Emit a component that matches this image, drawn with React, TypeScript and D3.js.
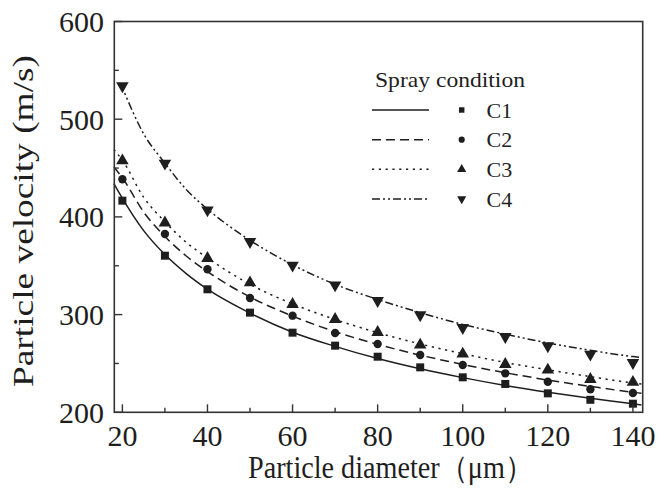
import React from "react";
import * as d3 from "d3";

const diameters = [20, 30, 40, 50, 60, 70, 80, 90, 100, 110, 120, 130, 140];
const c1 = [416.6, 360.3, 325.9, 302, 281.5, 268.2, 256.9, 246, 235.8, 229, 219.4, 212.8, 208.8];
const c2 = [438.5, 382.5, 346.4, 317, 298.9, 281.2, 269.9, 258.6, 248.4, 239.9, 231.3, 223.6, 219.8];
const c3 = [457.5, 394, 357.6, 332.6, 310.5, 295.2, 281.9, 268.9, 259.7, 249.1, 243.3, 233.8, 230.8];
const c4 = [534, 454.9, 407, 374.6, 350.5, 330.3, 314.2, 299.6, 286.6, 277.4, 267.9, 259.4, 250.8];

const fitX = [18, 20, 25, 30, 35, 40, 50, 60, 70, 80, 90, 100, 110, 120, 130, 140, 142];
const fit1 = [434, 419, 386, 361.5, 342, 326, 301.5, 282, 267.5, 255, 244.5, 235.5, 227.5, 220.5, 214.3, 208.7, 207.5];
const fit2 = [451, 440, 405, 380, 360, 344, 318, 298.5, 282.5, 269.5, 258.5, 249, 240.5, 233, 226.5, 220.5, 219.5];
const fit3 = [469, 458, 420, 395, 374, 358, 331, 311, 295, 281.5, 270, 260, 251, 243.5, 236.5, 230, 229];
const fitX4 = [19.5, 20, 25, 30, 35, 40, 50, 60, 70, 80, 90, 100, 110, 120, 130, 140, 142];
const fit4 = [537, 532, 485, 455, 428, 408, 376, 351, 331, 315.5, 302, 290, 280, 271, 263.5, 257, 256];

const seriesNames = ["C1", "C2", "C3", "C4"];
const xTicks = [20, 40, 60, 80, 100, 120, 140];
const yTicks = [200, 300, 400, 500, 600];

const W = 668;
const H = 489;
const FONT = "Times New Roman, Liberation Serif, Times, serif";
const INK = "#1e1e1e";

export default function App() {
  const x = d3.scaleLinear().domain([18.1, 142.3]).range([114.3, 642.7]);
  const y = d3.scaleLinear().domain([200, 600]).range([412.3, 21.5]);

  const dashes = [null, "9 5", "2.2 4.6", "8 3 2 3 2 3"];
  const symbols = [d3.symbolSquare, d3.symbolCircle, d3.symbolTriangle, d3.symbolTriangle];
  const symSizes = [64, 55, 68, 68];
  const rotations = [0, 0, 0, 180];
  const legendSizes = [30, 30, 36, 36];

  const values = [c1, c2, c3, c4];
  const fits = [
    fitX.map((d, i) => [d, fit1[i]]),
    fitX.map((d, i) => [d, fit2[i]]),
    fitX.map((d, i) => [d, fit3[i]]),
    fitX4.map((d, i) => [d, fit4[i]]),
  ];

  const line = d3
    .line<number[]>()
    .x((d) => x(d[0]))
    .y((d) => y(d[1]))
    .curve(d3.curveMonotoneX);

  const xMinor = d3.range(30, 141, 20);
  const yMinor = [250, 350, 450, 550];

  const legendRows = [110, 139.7, 169.3, 199];

  return (
    <svg width={W} height={H} style={{ position: "absolute", left: 0, top: 0, background: "#fff" }}>
      <rect x={0} y={0} width={W} height={H} fill="#fff" />
      {fits.map((pts, i) => (
        <path
          key={"f" + i}
          d={line(pts) || ""}
          fill="none"
          stroke={INK}
          strokeWidth={1.5}
          strokeDasharray={dashes[i] || undefined}
        />
      ))}
      {values.map((vals, i) =>
        vals.map((v, j) => (
          <path
            key={"m" + i + "-" + j}
            d={d3.symbol().type(symbols[i]).size(symSizes[i])() || ""}
            transform={`translate(${x(diameters[j])},${y(v)}) rotate(${rotations[i]})`}
            fill={INK}
          />
        ))
      )}
      <rect
        x={x.range()[0]}
        y={y.range()[1]}
        width={x.range()[1] - x.range()[0]}
        height={y.range()[0] - y.range()[1]}
        fill="none"
        stroke="#333"
        strokeWidth={1.6}
      />
      {xTicks.map((t) => (
        <line key={"xt" + t} x1={x(t)} x2={x(t)} y1={y(200)} y2={y(200) - 8} stroke="#333" strokeWidth={1.4} />
      ))}
      {xMinor.map((t) => (
        <line key={"xm" + t} x1={x(t)} x2={x(t)} y1={y(200)} y2={y(200) - 4.5} stroke="#333" strokeWidth={1.4} />
      ))}
      {yTicks.map((t) => (
        <line key={"yt" + t} x1={x.range()[0]} x2={x.range()[0] + 8} y1={y(t)} y2={y(t)} stroke="#333" strokeWidth={1.4} />
      ))}
      {yMinor.map((t) => (
        <line key={"ym" + t} x1={x.range()[0]} x2={x.range()[0] + 4.5} y1={y(t)} y2={y(t)} stroke="#333" strokeWidth={1.4} />
      ))}
      {xTicks.map((t) => (
        <text key={"xl" + t} x={x(t)} y={446} textAnchor="middle" fontFamily={FONT} fontSize={30} fill={INK}>
          {t}
        </text>
      ))}
      {yTicks.map((t) => (
        <text key={"yl" + t} x={104} y={y(t) + 10.5} textAnchor="end" fontFamily={FONT} fontSize={30} fill={INK}>
          {t}
        </text>
      ))}
      <text
        x={390.5}
        y={478}
        textAnchor="middle"
        fontFamily={FONT}
        fontSize={31}
        fill={INK}
        textLength={285}
        lengthAdjust="spacingAndGlyphs"
      >
        Particle diameter（μm）
      </text>
      <text
        transform={`translate(33,221) rotate(-90)`}
        textAnchor="middle"
        fontFamily={FONT}
        fontSize={30}
        fill={INK}
        textLength={332}
        lengthAdjust="spacingAndGlyphs"
      >
        Particle velocity (m/s)
      </text>
      <text x={375} y={86.5} fontFamily={FONT} fontSize={22} fill={INK} textLength={150} lengthAdjust="spacingAndGlyphs">
        Spray condition
      </text>
      {seriesNames.map((name, i) => (
        <g key={"lg" + i}>
          <line
            x1={372}
            x2={429}
            y1={legendRows[i]}
            y2={legendRows[i]}
            stroke={INK}
            strokeWidth={1.5}
            strokeDasharray={dashes[i] || undefined}
          />
          <path
            d={d3.symbol().type(symbols[i]).size(legendSizes[i])() || ""}
            transform={`translate(461.7,${legendRows[i]}) rotate(${rotations[i]})`}
            fill={INK}
          />
          <text x={486.5} y={legendRows[i] + 7.5} fontFamily={FONT} fontSize={22} fill={INK}>
            {name}
          </text>
        </g>
      ))}
    </svg>
  );
}
